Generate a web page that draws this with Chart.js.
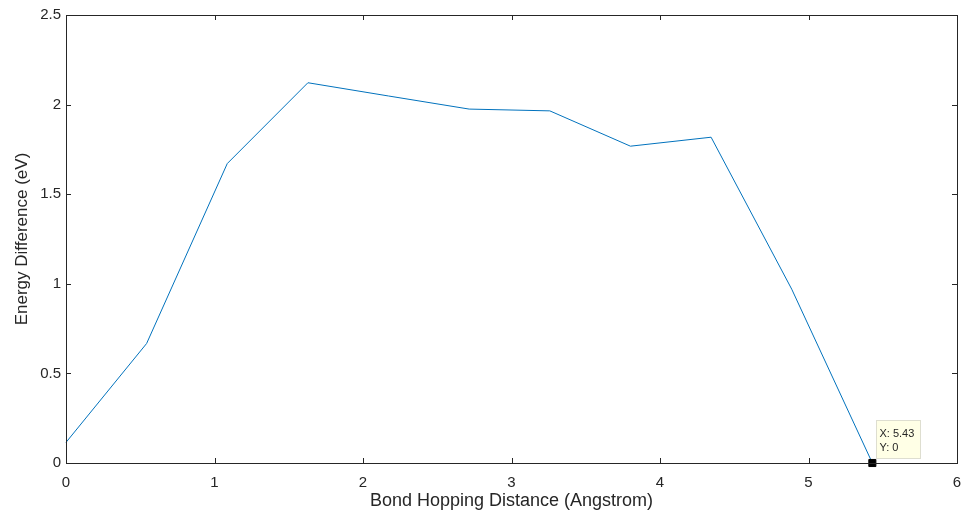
<!DOCTYPE html>
<html>
<head>
<meta charset="utf-8">
<script src="https://cdn.jsdelivr.net/npm/chart.js@4"></script>
<style>
  html, body { margin: 0; padding: 0; background: #fff; }
  #wrap { width: 963px; height: 516px; }
</style>
</head>
<body>
<div id="wrap"><canvas id="energyChart"></canvas></div>
<script>
// bond hopping distance (Angstrom) and energy difference (eV)
const distance = [0, 0.543, 1.086, 1.629, 2.172, 2.715, 3.258, 3.801, 4.344, 4.887, 5.43];
const energy = [0.115, 0.667, 1.671, 2.122, 2.048, 1.975, 1.965, 1.768, 1.818, 0.97, 0];
const xTicks = [0, 1, 2, 3, 4, 5, 6];
const yTicks = [0, 0.5, 1, 1.5, 2, 2.5];
const tipIndex = distance.length - 1;

const FONT = 'Liberation Sans, Arial, Helvetica, sans-serif';
const AXIS_COLOR = '#262626';

// MATLAB-like box with ticks pointing inward, plus the data tip
const matlabAxes = {
    id: 'matlabAxes',
    afterDraw(chart) {
        const { ctx, chartArea: a, scales } = chart;
        const len = 5;
        ctx.save();
        ctx.strokeStyle = AXIS_COLOR;
        ctx.lineWidth = 1;
        ctx.strokeRect(Math.round(a.left) + 0.5, Math.round(a.top) + 0.5,
            Math.round(a.right - a.left), Math.round(a.bottom - a.top));
        ctx.beginPath();
        xTicks.forEach(v => {
            const x = Math.round(scales.x.getPixelForValue(v)) + 0.5;
            ctx.moveTo(x, a.bottom); ctx.lineTo(x, a.bottom - len);
            ctx.moveTo(x, a.top); ctx.lineTo(x, a.top + len);
        });
        yTicks.forEach(v => {
            const y = Math.round(scales.y.getPixelForValue(v)) + 0.5;
            ctx.moveTo(a.left, y); ctx.lineTo(a.left + len, y);
            ctx.moveTo(a.right, y); ctx.lineTo(a.right - len, y);
        });
        ctx.stroke();

        // data tip
        const px = scales.x.getPixelForValue(distance[tipIndex]);
        const py = scales.y.getPixelForValue(energy[tipIndex]);
        const bx = Math.round(px) + 4.5, by = Math.round(py) - 42.5;
        ctx.fillStyle = '#ffffe6';
        ctx.strokeStyle = '#deded0';
        ctx.fillRect(bx, by, 44, 38);
        ctx.strokeRect(bx, by, 44, 38);
        ctx.fillStyle = '#262626';
        ctx.font = '11px ' + FONT;
        ctx.textBaseline = 'middle';
        ctx.fillText('X: ' + distance[tipIndex], bx + 3, by + 13);
        ctx.fillText('Y: ' + energy[tipIndex], bx + 3, by + 27);
        ctx.restore();
    }
};

const ctx = document.getElementById('energyChart').getContext('2d');
new Chart(ctx, {
    type: 'line',
    data: {
        datasets: [{
            data: distance.map((x, i) => ({ x: x, y: energy[i] })),
            borderColor: '#0072BD',
            borderWidth: 1,
            tension: 0,
            pointStyle: 'rect',
            pointRadius: c => c.dataIndex === tipIndex ? 5 : 0,
            pointBackgroundColor: '#000',
            pointBorderColor: '#000',
            clip: false
        }]
    },
    options: {
        responsive: true,
        maintainAspectRatio: false,
        animation: false,
        events: [],
        layout: { padding: { top: 15, right: 5, left: 0, bottom: 0 } },
        plugins: { legend: { display: false }, tooltip: { enabled: false } },
        scales: {
            x: {
                type: 'linear',
                min: 0, max: 6,
                afterFit: s => { s.height = 53; s.paddingRight = 0; s.paddingLeft = 0; },
                afterBuildTicks: s => { s.ticks = xTicks.map(v => ({ value: v })); },
                grid: { drawOnChartArea: false, drawTicks: false },
                border: { display: false },
                ticks: {
                    padding: 11, color: AXIS_COLOR, font: { family: FONT, size: 15 },
                    callback: v => String(v)
                },
                title: {
                    display: true,
                    text: 'Bond Hopping Distance (Angstrom)',
                    color: AXIS_COLOR,
                    font: { family: FONT, size: 18 },
                    padding: { top: 0, bottom: 4 }
                }
            },
            y: {
                min: 0, max: 2.5,
                afterFit: s => { s.width = 66; },
                afterBuildTicks: s => { s.ticks = yTicks.map(v => ({ value: v })); },
                grid: { drawOnChartArea: false, drawTicks: false },
                border: { display: false },
                ticks: {
                    padding: 5, color: AXIS_COLOR, font: { family: FONT, size: 15 },
                    callback: v => String(v)
                },
                title: {
                    display: true,
                    text: 'Energy Difference (eV)',
                    color: AXIS_COLOR,
                    font: { family: FONT, size: 17 },
                    padding: { top: 12, bottom: 0 }
                }
            }
        }
    },
    plugins: [matlabAxes]
});
</script>
</body>
</html>
